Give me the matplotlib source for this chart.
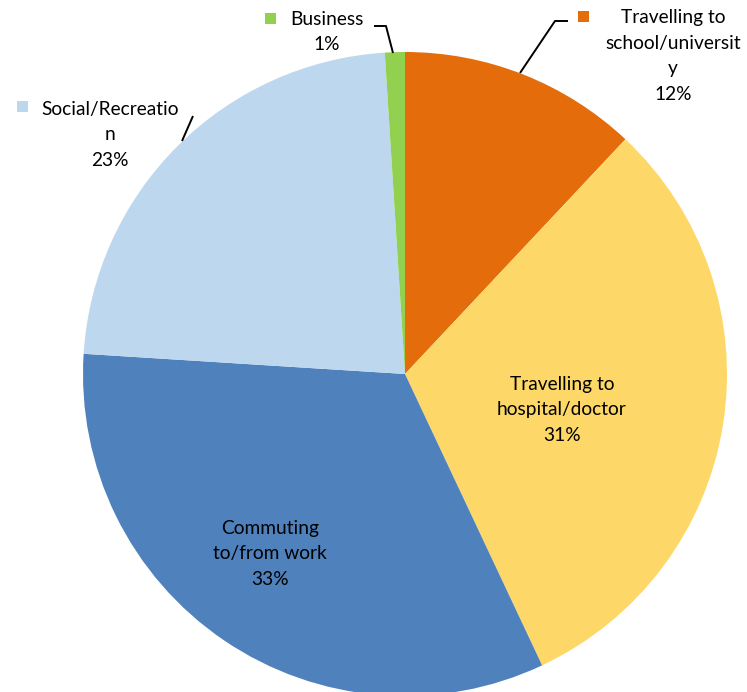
import matplotlib.pyplot as plt
import matplotlib.patches as patches

W, H = 747, 692

# trip purposes, clockwise from 12 o'clock
purposes = ["Travelling to\nschool/universit\ny", "Travelling to\nhospital/doctor",
            "Commuting\nto/from work", "Social/Recreatio\nn", "Business"]
shares = [12, 31, 33, 23, 1]
colors = ["#E46C0A", "#FDD868", "#4F81BD", "#BDD7EE", "#92D050"]

plt.rcParams['font.family'] = ['Lato', 'DejaVu Sans']

fig = plt.figure(figsize=(W / 100, H / 100), dpi=100)
ax = fig.add_axes([0, 0, 1, 1])

cx, cy, r = 405, H - 374, 322
ax.pie(shares, colors=colors, startangle=90, counterclock=False,
       center=(cx, cy), radius=r, frame=True)
ax.set_xlim(0, W)
ax.set_ylim(0, H)
ax.axis("off")

FS = 13.8


def label(x, y, name, pct):
    # y is the middle of the text block, counted from the top
    ax.text(x, H - y, name + "\n" + "%d%%" % pct, ha="center", va="center",
            fontsize=FS, linespacing=1.6, color="black")


def key(x, y, c):
    ax.add_patch(patches.Rectangle((x - 5.5, H - y - 5.5), 11, 11, color=c, lw=0))


def leader(xs, ys):
    ax.plot(xs, [H - v for v in ys], color="black", lw=1.4, solid_capstyle="butt")


# inside labels
label(562, 410, purposes[1], shares[1])
label(270, 554, purposes[2], shares[2])

# outside labels with keys and leader lines
key(583, 16, colors[0])
label(673, 56, purposes[0], shares[0])
leader([520, 555, 568], [73, 21, 21])

key(22, 106, colors[3])
label(110, 135, purposes[3], shares[3])
leader([182, 193], [141, 116])

key(270, 18, colors[4])
label(327, 32, purposes[4], shares[4])
leader([393, 386, 374], [53, 26, 26])

fig.savefig("out.png", dpi=100)
